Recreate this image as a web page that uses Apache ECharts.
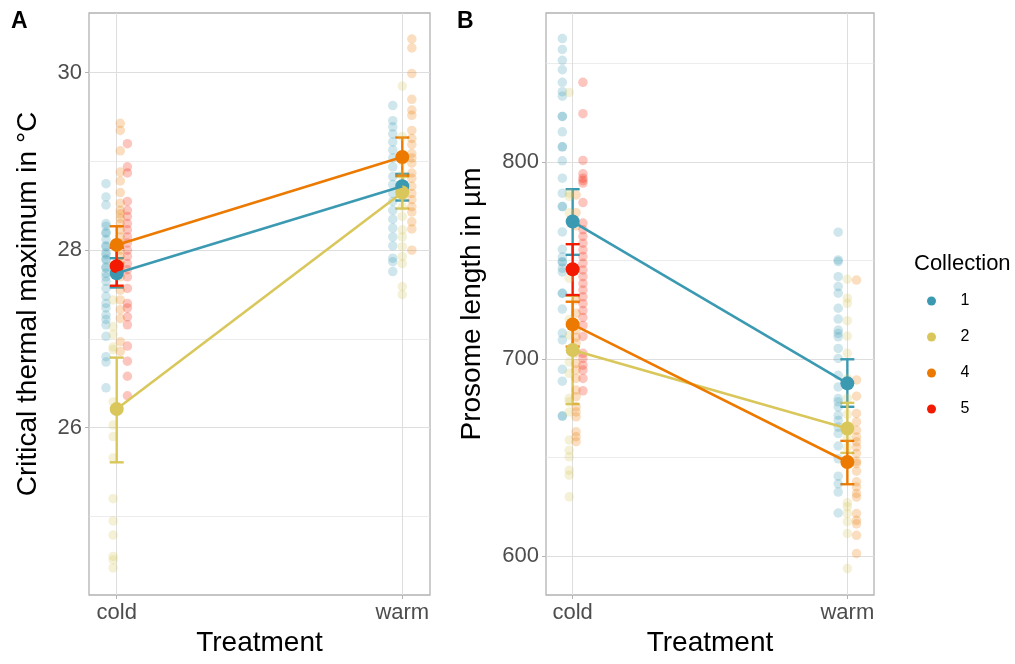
<!DOCTYPE html>
<html>
<head>
<meta charset="utf-8">
<script src="https://cdn.jsdelivr.net/npm/echarts@6/dist/echarts.min.js"></script>
<style>
  html, body { margin: 0; padding: 0; background: #fff; }
  #chart { width: 1015px; height: 664px; }
</style>
</head>
<body>
<div id="chart"></div>
<script>
const treatments = ["cold", "warm"];
const collections = ["1", "2", "4", "5"];

// Panel A: critical thermal maximum (°C), raw values per collection
const ctmaxCold1 = [28.75, 28.6, 28.51, 28.3, 28.27, 28.19, 28.12, 28.04, 27.97, 27.89, 27.81, 27.74, 27.65, 27.57, 27.48, 27.4, 27.35, 27.27, 27.22, 27.16, 27.03, 26.8, 26.74, 26.45, 28.2, 28.05, 27.9, 27.8, 27.7, 27.95];
const ctmaxCold2 = [27.44, 27.14, 27.05, 26.91, 26.88, 26.29, 26.03, 25.9, 25.66, 25.2, 24.95, 24.79, 24.55, 24.51, 24.42];
const ctmaxCold4 = [29.43, 29.35, 29.12, 28.88, 28.78, 28.65, 28.53, 28.45, 28.41, 28.36, 28.3, 28.23, 28.15, 28.08, 28.0, 27.93, 27.85, 27.78, 27.7, 27.55, 27.44, 27.33, 27.23, 26.97, 26.86];
const ctmaxCold5 = [29.2, 28.94, 28.87, 28.55, 28.45, 28.38, 28.3, 28.23, 28.15, 28.08, 28.0, 27.93, 27.85, 27.78, 27.7, 27.57, 27.4, 27.35, 27.25, 27.16, 26.92, 26.75, 26.58, 26.36];
const ctmaxWarm1 = [29.63, 29.46, 29.39, 29.31, 29.22, 29.13, 29.04, 28.94, 28.83, 28.74, 28.64, 28.55, 28.45, 28.35, 28.25, 28.15, 28.05, 27.91, 27.87, 27.76];
const ctmaxWarm2 = [29.85, 29.28, 29.0, 28.85, 28.75, 28.6, 28.49, 28.38, 28.23, 28.15, 28.04, 27.93, 27.85, 27.59, 27.5];
const ctmaxWarm4 = [30.38, 30.28, 29.99, 29.7, 29.58, 29.52, 29.35, 29.26, 29.19, 29.09, 29.04, 28.98, 28.87, 28.81, 28.72, 28.64, 28.57, 28.49, 28.43, 28.32, 28.24, 28.0];

// Panel A: means and error bars (cold, warm) per collection; null = not measured
const ctmaxMean = { "1": [27.74, 28.72], "2": [26.21, 28.65], "4": [28.06, 29.05], "5": [27.82, null] };
const ctmaxLow  = { "1": [27.58, 28.56], "2": [25.61, 28.47], "4": [27.85, 28.84], "5": [27.6, null] };
const ctmaxHigh = { "1": [27.91, 28.86], "2": [26.79, 28.83], "4": [28.27, 29.27], "5": [28.03, null] };

// Panel B: prosome length (µm), raw values per collection
const lengthCold1 = [862.5, 857, 851.5, 846.7, 840.3, 835.6, 833.3, 823, 823, 815.2, 807.6, 807.6, 800.5, 791.7, 784.1, 777.3, 777.3, 764.4, 755.6, 751.7, 749.2, 749.2, 746, 744.1, 733.3, 733.3, 725.3, 713.1, 709.6, 694.7, 688.7, 671, 671];
const lengthCold2 = [835.2, 784.1, 782.4, 774.2, 740.9, 720, 712, 698.4, 692.7, 680, 678.2, 673.1, 658.8, 653.7, 650.3, 643.5, 641, 630];
const lengthCold4 = [783.2, 774.2, 767.5, 729.9, 723.1, 714.7, 711, 708, 703, 697.7, 694.3, 690.1, 684.2, 680.8, 675.7, 673.1, 670.6, 663, 660.5, 658];
const lengthCold5 = [840.3, 824.4, 800.7, 793.9, 791.7, 790.5, 789.2, 779.3, 768.9, 765.5, 762.1, 758.7, 755.3, 751.9, 748.5, 745.1, 741.7, 738.3, 735, 731.5, 728, 724.5, 721, 717, 711.4, 702.8, 700.2, 696.8, 694.3, 690.1, 683.8];
const lengthWarm1 = [764.3, 750.2, 749.4, 741.7, 736.7, 733.3, 725.7, 720.2, 714.6, 712.9, 711.2, 705.3, 700.2, 691.7, 685.8, 679.9, 678.2, 675.6, 671.4, 668.8, 665.4, 662.1, 655.8, 649.3, 640.5, 636.6, 632.4, 621.8];
const lengthWarm2 = [740.4, 730.8, 728.2, 719.4, 711.6, 702.8, 690, 680, 672, 666, 660, 655, 648, 627, 625, 621.6, 617.4, 611.4, 593.6];
const lengthWarm4 = [740, 689.3, 681.1, 672.3, 668, 663.8, 660.4, 657.9, 655.3, 652, 648, 646.9, 643, 637.6, 635, 631.7, 629.9, 621.5, 618.1, 616.3, 610.5, 601.2];

const lengthMean = { "1": [769.7, 687.6], "2": [704.5, 664.7], "4": [717.5, 647.7], "5": [745.5, null] };
const lengthLow  = { "1": [752.8, 675.7], "2": [677.1, 652.3], "4": [706.2, 636.4], "5": [732.4, null] };
const lengthHigh = { "1": [786.1, 699.8], "2": [732.0, 677.7], "4": [729.0, 658.4], "5": [758.2, null] };

// tick labels
const ctmaxTicks = [26, 28, 30];
const ctmaxMinor = [25, 27, 29];
const lengthTicks = [600, 700, 800];
const lengthMinor = [650, 750, 850];

const colors = { "1": "#3B9AB2", "2": "#D9C75B", "4": "#EC7A00", "5": "#F21A00" };
const FONT = "Liberation Sans, Arial, sans-serif";
const DODGE = 0.1;

const chart = echarts.init(document.getElementById("chart"), null, { renderer: "canvas" });

// raw values keyed by treatment then collection
const panelA = {
  cold: { "1": ctmaxCold1, "2": ctmaxCold2, "4": ctmaxCold4, "5": ctmaxCold5 },
  warm: { "1": ctmaxWarm1, "2": ctmaxWarm2, "4": ctmaxWarm4 }
};
const panelB = {
  cold: { "1": lengthCold1, "2": lengthCold2, "4": lengthCold4, "5": lengthCold5 },
  warm: { "1": lengthWarm1, "2": lengthWarm2, "4": lengthWarm4 }
};

function xAxisFor(g) {
  return {
    type: "value", gridIndex: g, min: 0.903, max: 2.097,
    axisLine: { show: false },
    axisTick: { show: true, customValues: [1, 2], length: 4, lineStyle: { color: "#b3b3b3", width: 1 } },
    axisLabel: { customValues: [1, 2], formatter: v => treatments[Math.round(v) - 1], fontSize: 22, color: "#4d4d4d", margin: 7, fontFamily: FONT },
    splitLine: { show: true, lineStyle: { color: "#dedede", width: 1 } },
    name: "Treatment", nameLocation: "middle", nameGap: 34,
    nameTextStyle: { fontSize: 28, color: "#000", fontFamily: FONT }
  };
}

function yAxesFor(g, min, max, ticks, minor, title, gap) {
  return [{
    type: "value", gridIndex: g, min: min, max: max, position: "left",
    axisLine: { show: false },
    axisTick: { show: true, customValues: ticks, length: 4, lineStyle: { color: "#b3b3b3", width: 1 } },
    axisLabel: { customValues: ticks, fontSize: 22, color: "#4d4d4d", margin: 7, fontFamily: FONT },
    splitLine: { show: true, lineStyle: { color: "#dedede", width: 1 } },
    name: title, nameLocation: "middle", nameGap: gap,
    nameTextStyle: { fontSize: 28, color: "#000", fontFamily: FONT }
  }, {
    type: "value", gridIndex: g, min: min, max: max, position: "left",
    axisLine: { show: false },
    axisTick: { show: false, customValues: minor },
    axisLabel: { show: false, customValues: minor },
    splitLine: { show: true, lineStyle: { color: "#e4e4e4", width: 0.7 } }
  }];
}

function panelSeries(raw, mean, low, high, xi, yi, tag) {
  const pts = [], lines = [], bars = [], dots = [];
  treatments.forEach((tr, ti) => {
    const groups = Object.keys(raw[tr]);
    const n = groups.length;
    groups.forEach((c, gi) => {
      const off = (gi - (n - 1) / 2) * DODGE / n;
      pts.push({
        name: tag + "pts" + c + tr, type: "scatter", xAxisIndex: xi, yAxisIndex: yi,
        symbolSize: 9.5, silent: true,
        itemStyle: { color: colors[c], opacity: 0.25 },
        data: raw[tr][c].map(v => [ti + 1 + off, v])
      });
    });
  });
  collections.forEach(c => {
    const m = mean[c].map((v, i) => [i + 1, v]).filter(d => d[1] != null);
    lines.push({
      name: tag + "line" + c, type: "line", xAxisIndex: xi, yAxisIndex: yi,
      showSymbol: false, silent: true, data: m,
      lineStyle: { color: colors[c], width: 2.6 }
    });
    bars.push({
      name: tag + "err" + c, type: "custom", xAxisIndex: xi, yAxisIndex: yi, silent: true,
      encode: { x: 0, y: [1, 2] },
      data: low[c].map((v, i) => [i + 1, v, high[c][i]]).filter(d => d[1] != null),
      renderItem: (params, api) => {
        const top = api.coord([api.value(0), api.value(2)]);
        const bot = api.coord([api.value(0), api.value(1)]);
        const w = 7;
        const st = { stroke: colors[c], lineWidth: 2.4 };
        return {
          type: "group", children: [
            { type: "line", shape: { x1: top[0], y1: top[1], x2: bot[0], y2: bot[1] }, style: st },
            { type: "line", shape: { x1: top[0] - w, y1: top[1], x2: top[0] + w, y2: top[1] }, style: st },
            { type: "line", shape: { x1: bot[0] - w, y1: bot[1], x2: bot[0] + w, y2: bot[1] }, style: st }
          ]
        };
      }
    });
    dots.push({
      name: tag === "A" ? c : tag + "mean" + c, type: "scatter", xAxisIndex: xi, yAxisIndex: yi,
      symbolSize: 14, silent: true,
      itemStyle: { color: colors[c], opacity: 1 },
      data: m
    });
  });
  return pts.concat(lines, bars, dots);
}

const option = {
  animation: false,
  backgroundColor: "#fff",
  textStyle: { fontFamily: FONT },
  title: [
    { text: "A", left: 11, top: 10, padding: 0, textStyle: { fontSize: 23, fontWeight: "bold", color: "#000", fontFamily: FONT } },
    { text: "B", left: 457, top: 10, padding: 0, textStyle: { fontSize: 23, fontWeight: "bold", color: "#000", fontFamily: FONT } },
    { text: "Collection", left: 914, top: 253, padding: 0, textStyle: { fontSize: 22, fontWeight: "normal", color: "#000", fontFamily: FONT } }
  ],
  legend: {
    data: collections, orient: "vertical", left: 927, top: 293, padding: 0,
    icon: "circle", itemWidth: 48, itemHeight: 9, itemGap: 20,
    selectedMode: false,
    textStyle: { fontSize: 16, color: "#000", fontFamily: FONT }
  },
  grid: [
    { left: 89, top: 13, width: 341, height: 582, show: true, borderColor: "#b3b3b3", borderWidth: 1.3, backgroundColor: "transparent" },
    { left: 546, top: 13, width: 328, height: 582, show: true, borderColor: "#b3b3b3", borderWidth: 1.3, backgroundColor: "transparent" }
  ],
  xAxis: [xAxisFor(0), xAxisFor(1)],
  yAxis: yAxesFor(0, 24.115, 30.673, ctmaxTicks, ctmaxMinor, "Critical thermal maximum in °C", 47)
    .concat(yAxesFor(1, 580.2, 875.5, lengthTicks, lengthMinor, "Prosome length in µm", 60)),
  series: panelSeries(panelA, ctmaxMean, ctmaxLow, ctmaxHigh, 0, 0, "A")
    .concat(panelSeries(panelB, lengthMean, lengthLow, lengthHigh, 1, 2, "B"))
};

chart.setOption(option);
</script>
</body>
</html>
